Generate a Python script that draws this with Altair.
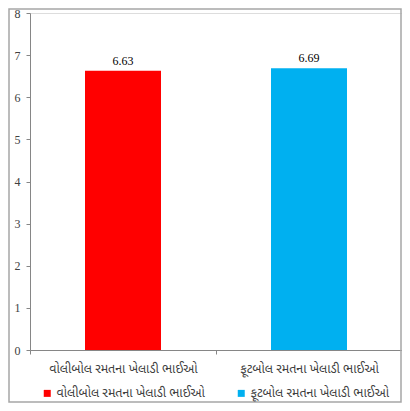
import altair as alt
import pandas as pd

categories = ["વોલીબોલ રમતના ખેલાડી ભાઈઓ", "ફૂટબોલ રમતના ખેલાડી ભાઈઓ"]
values = [6.63, 6.69]
colors = ["#FF0000", "#00B0F0"]
y_ticks = [0, 1, 2, 3, 4, 5, 6, 7, 8]

df = pd.DataFrame({"category": categories, "value": values})

FONT = "Liberation Serif"
GFONT = "Noto Sans Gujarati, Noto Sans, sans-serif"

x = alt.X(
    "category:N",
    sort=categories,
    title=None,
    scale=alt.Scale(paddingInner=0, paddingOuter=0),
    axis=alt.Axis(
        labelAngle=0,
        labelFont=GFONT,
        labelFontSize=12.5,
        labelColor="#404040",
        labelPadding=8,
        tickBand="extent",
        tickSize=4,
        tickColor="#868686",
        domainColor="#868686",
        labelLimit=250,
    ),
)

y = alt.Y(
    "value:Q",
    title=None,
    scale=alt.Scale(domain=[0, 8], nice=False),
    axis=alt.Axis(
        values=y_ticks,
        grid=False,
        tickSize=4,
        tickColor="#868686",
        domainColor="#868686",
        labelFont=FONT,
        labelFontSize=12,
        labelColor="#404040",
        labelPadding=6,
    ),
)

bars = alt.Chart(df).mark_bar(size=76).encode(
    x=x,
    y=y,
    color=alt.Color(
        "category:N",
        sort=categories,
        scale=alt.Scale(domain=categories, range=colors),
        legend=alt.Legend(
            title=None,
            orient="none",
            legendX=11,
            legendY=374,
            direction="horizontal",
            symbolType="square",
            symbolSize=49,
            symbolStrokeWidth=0,
            labelFont=GFONT,
            labelFontSize=12.5,
            labelColor="#404040",
            labelLimit=250,
            columnPadding=30,
            labelOffset=3,
        ),
    ),
)

text = alt.Chart(df).mark_text(
    dy=-10, font=FONT, fontSize=12, color="#000000"
).encode(
    x=alt.X("category:N", sort=categories),
    y="value:Q",
    text=alt.Text("value:Q", format=".2f"),
)

border = alt.Chart(pd.DataFrame({"a": [0]})).mark_rect(
    fill=None, stroke="#A6A6A6", strokeWidth=1.5, clip=False
).encode(
    x=alt.value(-21),
    x2=alt.value(371),
    y=alt.value(-4),
    y2=alt.value(389),
)

chart = alt.layer(bars, text, border).properties(
    width=372,
    height=337,
    autosize=alt.AutoSizeParams(type="none"),
    padding={"left": 22, "top": 5, "right": 0, "bottom": 53},
).configure_view(stroke=None).configure(background="#FFFFFF")

chart.save("out.html", embed_options={"renderer": "svg", "actions": False})
